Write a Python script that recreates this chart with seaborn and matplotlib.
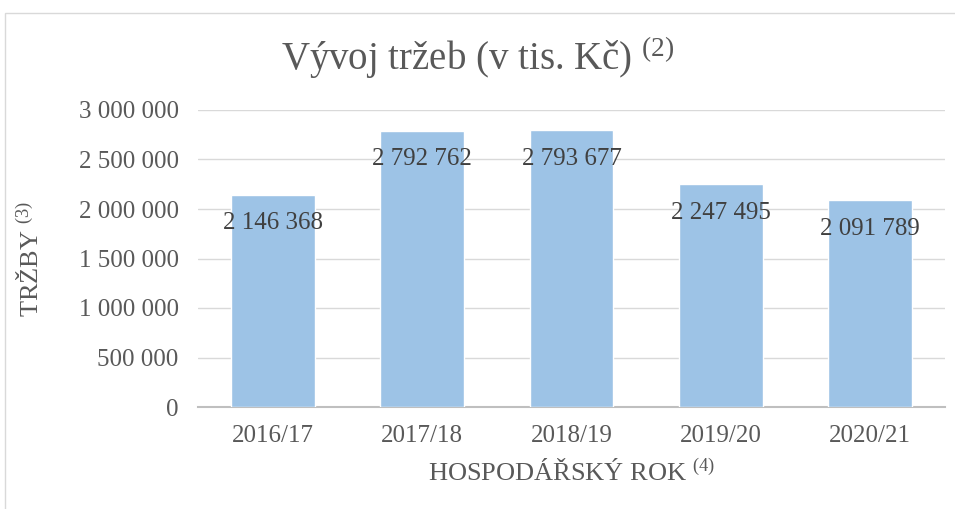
import matplotlib
matplotlib.use("Agg")
import matplotlib.pyplot as plt
import seaborn as sns
import pandas as pd
from matplotlib.patches import Rectangle
from matplotlib.ticker import FuncFormatter

# data
years = ["2016/17", "2017/18", "2018/19", "2019/20", "2020/21"]
revenue = [2146368, 2792762, 2793677, 2247495, 2091789]

df = pd.DataFrame({"rok": years, "trzby": revenue})

sns.set_theme(style="white")
plt.rcParams["font.family"] = ["Liberation Serif", "DejaVu Serif"]
plt.rcParams["mathtext.fontset"] = "custom"
plt.rcParams["mathtext.rm"] = "Liberation Serif"
plt.rcParams["mathtext.it"] = "Liberation Serif"

grey = "#595959"

fig = plt.figure(figsize=(9.55, 5.09), dpi=100)
ax = fig.add_axes([198 / 955, 1 - 407 / 509, 747 / 955, 297 / 509])

sns.barplot(data=df, x="rok", y="trzby", color="#9DC3E6", width=0.56,
            saturation=1, ax=ax, zorder=3)

ax.set_ylim(0, 3000000)
ax.set_yticks(range(0, 3000001, 500000))
ax.yaxis.set_major_formatter(FuncFormatter(lambda v, p: f"{int(v):,}".replace(",", " ")))
ax.grid(axis="y", color="#D9D9D9", lw=1, zorder=0)
for s in ["top", "right", "left"]:
    ax.spines[s].set_visible(False)
ax.spines["bottom"].set_color("#BFBFBF")
ax.spines["bottom"].set_linewidth(1.5)
ax.tick_params(axis="both", length=0, labelsize=18, colors=grey)
ax.tick_params(axis="y", pad=14)
ax.tick_params(axis="x", pad=13)

for i, v in enumerate(revenue):
    ax.text(i, v - 290000, f"{v:,}".replace(",", " "), ha="center", va="center",
            fontsize=18, color="#404040", zorder=4)

ax.set_xlabel(r"HOSPODÁŘSKÝ ROK $^{\mathrm{(4)}}$", fontsize=19, color=grey)
ax.set_ylabel(r"TRŽBY $^{\mathrm{(3)}}$", fontsize=19, color=grey)
ax.xaxis.set_label_coords(0.5, -(472 - 407) / 297)
ax.yaxis.set_label_coords((30 - 198) / 747, 0.5)
ax.xaxis.label.set_va("center")
ax.yaxis.label.set_va("center")
fig.text(0.5, 1 - 58 / 509, r"Vývoj tržeb (v tis. Kč) $^{\mathrm{(2)}}$",
         ha="center", va="center", fontsize=28, color=grey)

fig.patches.append(Rectangle((5 / 955, -0.01), 1, 1 - 13 / 509 + 0.01,
                             transform=fig.transFigure, fill=False,
                             edgecolor="#D9D9D9", lw=1))

fig.savefig("out.png", dpi=100)
